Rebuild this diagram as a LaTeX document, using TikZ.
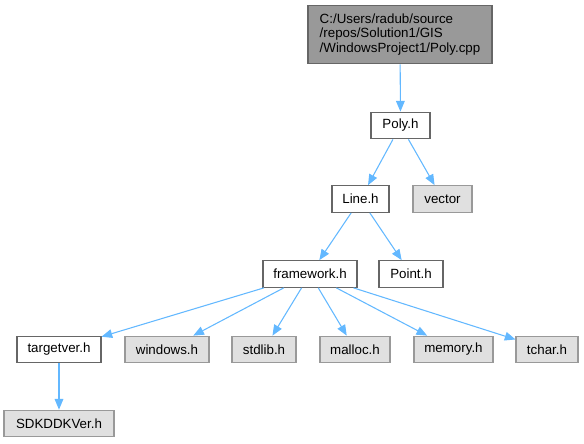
\documentclass[tikz,border=0pt]{standalone}
\usepackage{fontspec}
\setmainfont{Liberation Sans}
\usepackage{xcolor}
\usetikzlibrary{arrows.meta,positioning}

\definecolor{edgeblue}{HTML}{63B8FF}
\definecolor{rootfill}{HTML}{999999}
\definecolor{rootdraw}{HTML}{666666}
\definecolor{sysfill}{HTML}{E0E0E0}
\definecolor{sysdraw}{HTML}{999999}

\begin{document}
\begin{tikzpicture}[
  x=0.75pt, y=-0.75pt,
  >={Triangle[length=8pt,width=6.5pt]},
  fbox/.style={draw=rootdraw, fill=white, rectangle, line width=0.8pt,
               minimum height=20pt, inner sep=2pt, font=\fontsize{10}{12}\selectfont},
  gbox/.style={fbox, draw=sysdraw, fill=sysfill},
  rbox/.style={fbox, fill=rootfill, align=left, minimum height=44pt,
               inner xsep=8pt, font=\fontsize{10}{11.2}\selectfont},
  darr/.style={->, edgeblue, line width=0.8pt},
]
\useasboundingbox (0,0) rectangle (584,443);

%%---- Source file ---------------------------------------------------
\node[rbox, minimum width=138pt] (root) at (400,34.5)
  {C:/Users/radub/source\\/repos/Solution1/GIS\\/WindowsProject1/Poly.cpp};

%%---- Project headers -----------------------------------------------
\node[fbox, minimum width=44.25pt] (poly) at (400.5,125.5) {Poly.h};
\node[fbox, minimum width=42.75pt] (line) at (360.5,199) {Line.h};
\node[gbox, minimum width=44.25pt] (vector) at (442.5,199) {vector};
\node[fbox, minimum width=70.5pt] (framework) at (310,274) {framework.h};
\node[fbox, minimum width=48pt] (point) at (411,274) {Point.h};

%%---- Bottom row ----------------------------------------------------
\node[fbox, minimum width=63pt] (targetver) at (59,349.5) {targetver.h};
\node[gbox, minimum width=63pt] (windows) at (167,349.5) {windows.h};
\node[gbox, minimum width=48pt] (stdlib) at (264,349.5) {stdlib.h};
\node[gbox, minimum width=52.5pt] (malloc) at (355,349.5) {malloc.h};
\node[gbox, minimum width=59.25pt] (memory) at (453.5,349.5) {memory.h};
\node[gbox, minimum width=46.5pt] (tchar) at (547,349.5) {tchar.h};
\node[gbox, minimum width=82.5pt] (sdk) at (59,423.5) {SDKDDKVer.h};

%%---- Includes ------------------------------------------------------
\draw[darr] (root) -- (poly);
\draw[darr] (poly) -- (line);
\draw[darr] (poly) -- (vector);
\draw[darr] (line) -- (framework);
\draw[darr] (line) -- (point);
\foreach \dst in {targetver,windows,stdlib,malloc,memory,tchar}
  \draw[darr] (framework) -- (\dst);
\draw[darr] (targetver) -- (sdk);

\end{tikzpicture}
\end{document}
